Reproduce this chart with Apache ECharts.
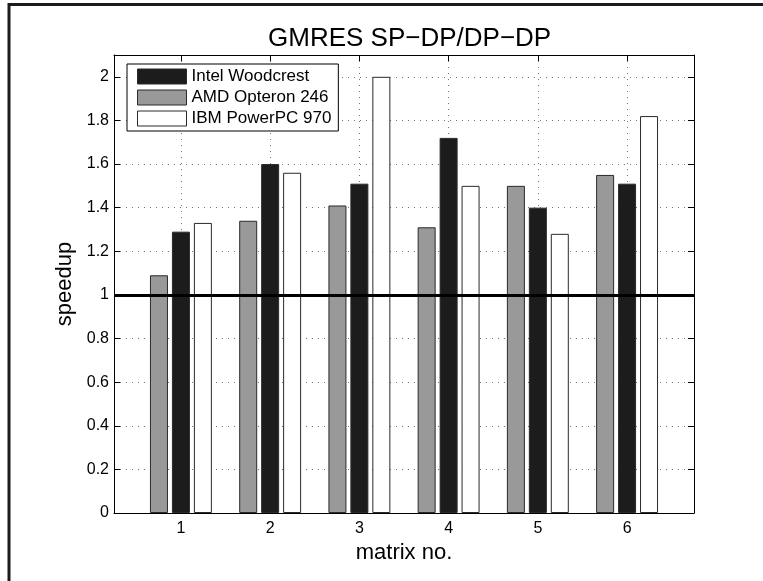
<!DOCTYPE html>
<html>
<head>
<meta charset="utf-8">
<script src="https://cdn.jsdelivr.net/npm/echarts@6/dist/echarts.min.js"></script>
<style>
  html, body { margin: 0; padding: 0; background: #fff; }
  #chart { width: 763px; height: 581px; }
</style>
</head>
<body>
<div id="chart"></div>
<script>
// matrix numbers on the x axis
const matrices = [1, 2, 3, 4, 5, 6]
const yTicks = [0, 0.2, 0.4, 0.6, 0.8, 1, 1.2, 1.4, 1.6, 1.8, 2]
// speedup per matrix
const amd = [1.09, 1.34, 1.41, 1.31, 1.50, 1.55]
const intel = [1.29, 1.60, 1.51, 1.72, 1.40, 1.51]
const ibm = [1.33, 1.56, 2.00, 1.50, 1.28, 1.82]

const font = 'Liberation Sans, Arial, Helvetica, sans-serif'
const pairs = vals => matrices.map((m, i) => [m, vals[i]])

const chart = echarts.init(document.getElementById('chart'))

const barSeries = (name, vals, color) => ({
  name: name,
  type: 'bar',
  xAxisIndex: 0,
  yAxisIndex: 0,
  barWidth: 18,
  barGap: '22%',
  itemStyle: { color: color, borderColor: '#2a2a2a', borderWidth: 1 },
  emphasis: { disabled: true },
  data: pairs(vals)
})

const option = {
  animation: false,
  backgroundColor: '#fff',
  title: {
    text: 'GMRES SP\u2212DP/DP\u2212DP',
    left: 263,
    top: 21,
    textStyle: { fontFamily: font, fontSize: 26, fontWeight: 'normal', color: '#000' }
  },
  legend: {
    data: ['Intel Woodcrest', 'AMD Opteron 246', 'IBM PowerPC 970'],
    orient: 'vertical',
    left: 127,
    top: 64,
    icon: 'rect',
    itemWidth: 49,
    itemHeight: 15,
    itemGap: 4,
    padding: [4, 7, 4, 10],
    borderColor: '#000',
    borderWidth: 1,
    backgroundColor: '#fff',
    textStyle: { fontFamily: font, fontSize: 17, lineHeight: 17, color: '#000' },
    itemStyle: { borderColor: '#2a2a2a', borderWidth: 1 },
    selectedMode: false,
    z: 10
  },
  grid: { left: 114, right: 69, top: 55, bottom: 68 },
  xAxis: [
    {
      type: 'value',
      min: 0.25,
      max: 6.75,
      name: 'matrix no.',
      nameLocation: 'middle',
      nameGap: 27,
      nameTextStyle: { fontFamily: font, fontSize: 22, color: '#000' },
      axisLine: { lineStyle: { color: '#000', width: 1 } },
      axisTick: { show: true, inside: true, length: 6, customValues: matrices, lineStyle: { color: '#000', width: 1 } },
      axisLabel: { customValues: matrices, fontFamily: font, fontSize: 16, color: '#000', margin: 8 },
      splitLine: { show: true, lineStyle: { color: '#777', type: [1, 5] } }
    },
    {
      type: 'value',
      position: 'top',
      min: 0.25,
      max: 6.75,
      axisLine: { onZero: false, lineStyle: { color: '#000', width: 1 } },
      axisTick: { show: true, inside: true, length: 6, customValues: matrices, lineStyle: { color: '#000', width: 1 } },
      axisLabel: { show: false },
      splitLine: { show: false }
    }
  ],
  yAxis: [
    {
      type: 'value',
      min: 0,
      max: 2.1,
      name: 'speedup',
      nameLocation: 'middle',
      nameGap: 37,
      nameTextStyle: { fontFamily: font, fontSize: 22, color: '#000' },
      axisLine: { show: true, lineStyle: { color: '#000', width: 1 } },
      axisTick: { show: true, inside: true, length: 6, customValues: yTicks, lineStyle: { color: '#000', width: 1 } },
      axisLabel: { customValues: yTicks, fontFamily: font, fontSize: 16, color: '#000', margin: 5 },
      splitLine: { show: true, lineStyle: { color: '#777', type: [1, 5] } }
    },
    {
      type: 'value',
      position: 'right',
      min: 0,
      max: 2.1,
      axisLine: { show: true, onZero: false, lineStyle: { color: '#000', width: 1 } },
      axisTick: { show: true, inside: true, length: 6, customValues: yTicks, lineStyle: { color: '#000', width: 1 } },
      axisLabel: { show: false },
      splitLine: { show: false }
    }
  ],
  series: [
    barSeries('AMD Opteron 246', amd, '#999999'),
    Object.assign(barSeries('Intel Woodcrest', intel, '#1c1c1c'), {
      markLine: {
        symbol: 'none',
        silent: true,
        label: { show: false },
        lineStyle: { color: '#000', width: 3, type: 'solid' },
        data: [{ yAxis: 1 }],
        z: 5
      }
    }),
    barSeries('IBM PowerPC 970', ibm, '#ffffff')
  ],
  graphic: [
    { type: 'line', shape: { x1: 9, y1: 4.5, x2: 763, y2: 4.5 }, style: { stroke: '#1c1c1c', lineWidth: 3 } },
    { type: 'line', shape: { x1: 9, y1: 3, x2: 9, y2: 581 }, style: { stroke: '#1c1c1c', lineWidth: 3 } }
  ]
}

chart.setOption(option)
</script>
</body>
</html>
